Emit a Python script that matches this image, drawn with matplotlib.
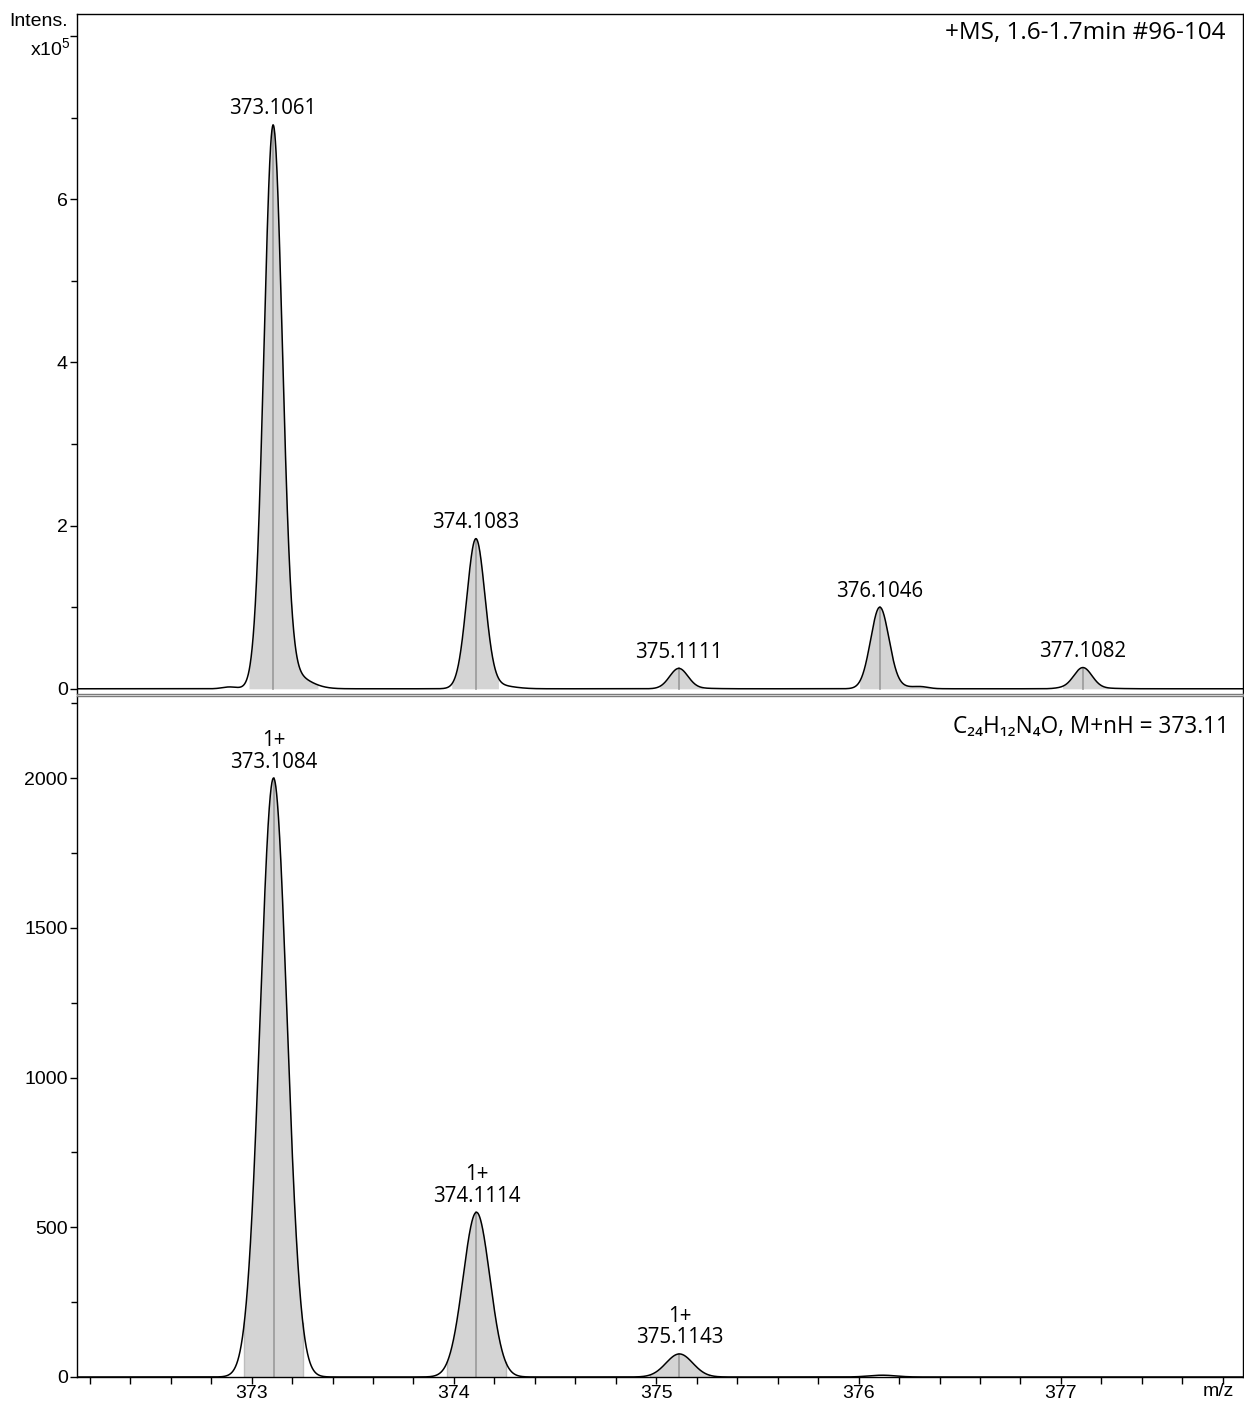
import numpy as np
import matplotlib
matplotlib.use("Agg")
import matplotlib.pyplot as plt
from matplotlib.ticker import MultipleLocator, FixedLocator, FuncFormatter

plt.rcParams['font.family'] = ['Liberation Sans', 'DejaVu Sans']
plt.rcParams['mathtext.fontset'] = 'custom'
plt.rcParams['mathtext.rm'] = 'Liberation Sans'
plt.rcParams['mathtext.it'] = 'Liberation Sans'

LABEL_FONT = ['Open Sans', 'Noto Sans', 'DejaVu Sans']

# Measured spectrum (+MS, 1.6-1.7 min): labelled peaks
exp_mz = [373.1061, 374.1083, 375.1111, 376.1046, 377.1082]
exp_int = [6.91e5, 1.84e5, 0.25e5, 1.00e5, 0.26e5]
# integration windows of the labelled peaks
exp_win_lo = [372.987, 373.989, 375.016, 376.005, 377.008]
exp_win_hi = [373.328, 374.220, 375.231, 376.395, 377.238]
# small unlabelled signals on the baseline
minor_mz = [372.89, 376.31, 377.00]
minor_int = [0.022e5, 0.018e5, 0.008e5]

# Simulated isotope pattern for C24H12N4O, [M+H]+
sim_mz = [373.1084, 374.1114, 375.1143, 376.1170]
sim_int = [2000, 550, 77, 6]
sim_charge = ['1+', '1+', '1+', None]

x_min, x_max = 372.137, 377.90
x = np.linspace(x_min, x_max, 8000)

# peak shape parameters (profile spectrum)
exp_sigma = 0.045
tail_shift, tail_sigma, tail_frac = 0.08, 0.085, 0.028
sim_sigma = 0.066
sim_half_window = 0.145


def gauss(x, c, s):
    return np.exp(-0.5 * ((x - c) / s) ** 2)


def exp_peak(x, c, h):
    # gaussian core with a small right-hand tail, scaled so the apex equals h
    shape = gauss(x, c, exp_sigma) + tail_frac * gauss(x, c + tail_shift, tail_sigma)
    apex = 1 + tail_frac * gauss(c, c + tail_shift, tail_sigma)
    return h * shape / apex


exp_profile = np.zeros_like(x)
for c, h in zip(exp_mz, exp_int):
    exp_profile += exp_peak(x, c, h)
for c, h in zip(minor_mz, minor_int):
    exp_profile += h * gauss(x, c, 0.035)

sim_profile = np.zeros_like(x)
for c, h in zip(sim_mz, sim_int):
    sim_profile += h * gauss(x, c, sim_sigma)

fig = plt.figure(figsize=(12.44, 14.05), dpi=100)
ax1 = fig.add_axes([0.0619, 0.5060, 0.9373, 0.4840])
ax2 = fig.add_axes([0.0619, 0.01993, 0.9373, 0.4847])

fill_col = '#d4d4d4'
centroid_col = '#9a9a9a'

# ---- measured spectrum ----
for lo, hi in zip(exp_win_lo, exp_win_hi):
    m = (x >= lo) & (x <= hi)
    ax1.fill_between(x[m], 0, exp_profile[m], color=fill_col, lw=0, zorder=1)
for c in exp_mz:
    yc = np.interp(c, x, exp_profile)
    ax1.plot([c, c], [0, yc], color=centroid_col, lw=1.2, zorder=2)
ax1.plot(x, exp_profile, color='black', lw=1.1, zorder=3)
for c, h in zip(exp_mz, exp_int):
    yc = np.interp(c, x, exp_profile)
    ax1.annotate(f'{c:.4f}', xy=(c, yc), xytext=(0, 4), textcoords='offset points',
                 ha='center', va='bottom', fontsize=14.8, family=LABEL_FONT)

ax1.set_xlim(x_min, x_max)
ax1.set_ylim(-0.065e5, 8.27e5)
ax1.yaxis.set_major_locator(FixedLocator([0, 2e5, 4e5, 6e5, 8e5]))
ax1.yaxis.set_minor_locator(FixedLocator([1e5, 3e5, 5e5, 7e5]))
ax1.yaxis.set_major_formatter(FuncFormatter(lambda v, p: '' if v >= 8e5 else f'{v / 1e5:.0f}'))
ax1.tick_params(axis='x', bottom=False, labelbottom=False)
ax1.tick_params(axis='y', which='major', length=5, width=1, labelsize=14, pad=1.5)
ax1.tick_params(axis='y', which='minor', length=4.5, width=1)
ax1.text(0.9854, 0.972, '+MS, 1.6-1.7min #96-104', transform=ax1.transAxes,
         ha='right', va='center', fontsize=17.5, family=LABEL_FONT)

# ---- simulated isotope pattern ----
for c, h, z in zip(sim_mz, sim_int, sim_charge):
    if z is None:
        continue
    lo, hi = c - sim_half_window, c + sim_half_window
    m = (x >= lo) & (x <= hi)
    ax2.fill_between(x[m], 0, sim_profile[m], color=fill_col, lw=0, zorder=1)
    for edge in (lo, hi):
        ax2.plot([edge, edge], [0, np.interp(edge, x, sim_profile)], color='#bdbdbd', lw=1, zorder=2)
    ax2.plot([c, c], [0, np.interp(c, x, sim_profile)], color=centroid_col, lw=1.2, zorder=2)
ax2.plot(x, sim_profile, color='black', lw=1.1, zorder=3)
for c, z in zip(sim_mz, sim_charge):
    if z is None:
        continue
    yc = np.interp(c, x, sim_profile)
    ax2.annotate(f'{z}\n{c:.4f}', xy=(c, yc), xytext=(0, 4), textcoords='offset points',
                 ha='center', va='bottom', fontsize=14.8, family=LABEL_FONT, linespacing=1.05)

ax2.set_xlim(x_min, x_max)
ax2.set_ylim(0, 2274)
ax2.yaxis.set_major_locator(MultipleLocator(500))
ax2.yaxis.set_minor_locator(MultipleLocator(250))
ax2.xaxis.set_major_locator(MultipleLocator(1))
ax2.xaxis.set_minor_locator(MultipleLocator(0.2))
ax2.xaxis.set_major_formatter(FuncFormatter(lambda v, p: f'{v:.0f}'))
ax2.tick_params(axis='y', which='major', length=5, width=1, labelsize=14, pad=1.5)
ax2.tick_params(axis='y', which='minor', length=4.5, width=1)
ax2.tick_params(axis='x', which='major', length=5, width=1, labelsize=14, pad=1)
ax2.tick_params(axis='x', which='minor', length=5, width=1)
ax2.text(0.988, 0.9545, 'C₂₄H₁₂N₄O, M+nH = 373.11', transform=ax2.transAxes,
         ha='right', va='center', fontsize=16.3, family=LABEL_FONT)

for ax in (ax1, ax2):
    for s in ax.spines.values():
        s.set_linewidth(1.0)
        s.set_color('black')
ax1.spines['bottom'].set_color('#7a7a7a')
ax2.spines['top'].set_color('#7a7a7a')

fig.text(68 / 1244, 1 - 22 / 1405, 'Intens.', ha='right', va='center', fontsize=14)
fig.text(71 / 1244, 1 - 48 / 1405, 'x10$^{5}$', ha='right', va='center', fontsize=14)
fig.text(1218 / 1244, 1 - 1392 / 1405, 'm/z', ha='center', va='center', fontsize=14)

fig.savefig('out.png', dpi=100)
